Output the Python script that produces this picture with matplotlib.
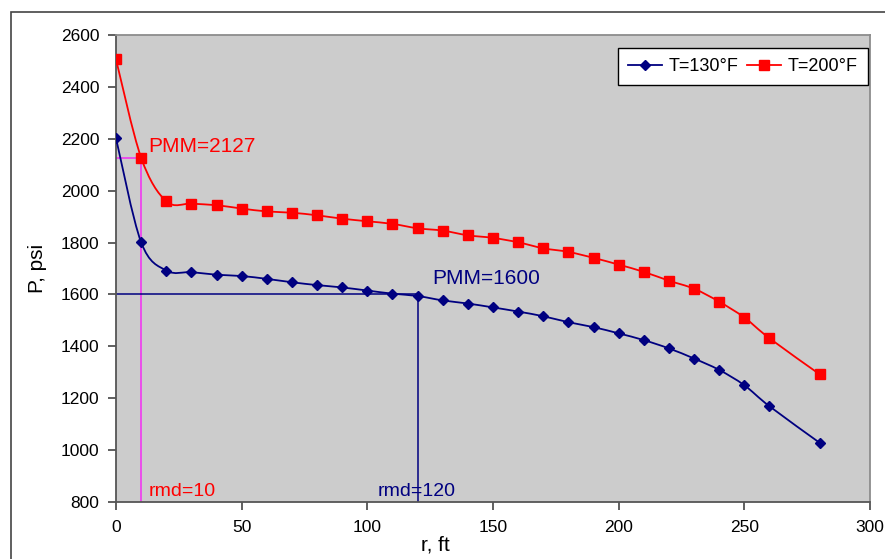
import numpy as np
import matplotlib.pyplot as plt
from matplotlib.path import Path
from matplotlib.patches import PathPatch, Rectangle

plt.rcParams['font.family'] = ['Liberation Sans', 'DejaVu Sans']

# Pressure profiles
r = [0, 10, 20, 30, 40, 50, 60, 70, 80, 90, 100, 110, 120, 130, 140,
     150, 160, 170, 180, 190, 200, 210, 220, 230, 240, 250, 260, 280]
p130 = [2202, 1801, 1692, 1686, 1676, 1671, 1660, 1647, 1636, 1627, 1615,
        1603, 1594, 1577, 1565, 1550, 1534, 1516, 1493, 1474, 1450, 1424,
        1392, 1353, 1309, 1250, 1169, 1028]
p200 = [2506, 2127, 1959, 1950, 1944, 1931, 1920, 1915, 1905, 1892, 1882,
        1872, 1855, 1846, 1828, 1818, 1801, 1778, 1764, 1741, 1715, 1687,
        1653, 1622, 1572, 1511, 1431, 1292]
labels = ['T=130°F', 'T=200°F']

pmm_hot, rmd_hot = 2127, 10
pmm_cold, rmd_cold = 1600, 120


# Excel-style smoothed line: Catmull-Rom segments drawn as cubic Beziers
def smoothPath(x, y, ax):
    pts = ax.transData.transform(np.column_stack([x, y]))
    verts = [pts[0]]
    codes = [Path.MOVETO]
    n = len(pts)
    for i in range(n - 1):
        p0 = pts[max(i - 1, 0)]
        p1 = pts[i]
        p2 = pts[i + 1]
        p3 = pts[min(i + 2, n - 1)]
        c1 = p1 + (p2 - p0) / 6.0
        c2 = p2 - (p3 - p1) / 6.0
        verts += [c1, c2, p2]
        codes += [Path.CURVE4] * 3
    verts = ax.transData.inverted().transform(np.array(verts))
    return Path(verts, codes)


fig = plt.figure(figsize=(8.85, 5.59), dpi=100)
ax = fig.add_axes([116 / 885, 1 - 502 / 559, (870 - 116) / 885, (502 - 35) / 559])
ax.set_facecolor('#cccccc')
ax.set_xlim(0, 300)
ax.set_ylim(800, 2600)
ax.set_xticks(np.arange(0, 301, 50))
ax.set_yticks(np.arange(800, 2601, 200))

# marker lines for PMM / rmd
ax.plot([0, rmd_hot], [pmm_hot, pmm_hot], color='#ee44ee', lw=1.3, zorder=2)
ax.plot([rmd_hot, rmd_hot], [800, pmm_hot], color='#ee44ee', lw=1.3, zorder=2)
ax.plot([0, rmd_cold], [pmm_cold, pmm_cold], color='#000080', lw=1.1, zorder=2)
ax.plot([rmd_cold, rmd_cold], [800, pmm_cold], color='#000080', lw=1.1, zorder=2)

fig.canvas.draw()
for yy, col, mk, ms, lab in [(p130, '#000080', 'D', 5.5, labels[0]),
                             (p200, '#ff0000', 's', 6.5, labels[1])]:
    ax.add_patch(PathPatch(smoothPath(r, yy, ax), fill=False, edgecolor=col,
                           lw=1.3, zorder=3))
    ax.plot(r, yy, ls='none', marker=mk, ms=ms, color=col, zorder=4)
    ax.plot([], [], color=col, lw=1.3, marker=mk, ms=ms, label=lab)

ax.text(13, 2150, 'PMM=2127', color='#ff0000', fontsize=15)
ax.text(126, 1640, 'PMM=1600', color='#000080', fontsize=15)
ax.text(13, 825, 'rmd=10', color='#ff0000', fontsize=14)
ax.text(104, 825, 'rmd=120', color='#000080', fontsize=14)

leg = ax.legend(loc='upper right', ncol=2, fontsize=13, frameon=True,
                fancybox=False, edgecolor='black', framealpha=1,
                handlelength=1.9, handletextpad=0.35, columnspacing=0.5,
                borderpad=0.55, borderaxespad=0,
                bbox_to_anchor=(0.997, 0.972))
leg.get_frame().set_linewidth(1.0)

ax.tick_params(direction='out', length=6, width=1.2, labelsize=12.5,
               color='#444444', pad=6)
ax.tick_params(axis='x', pad=7)
for s in ['left', 'bottom']:
    ax.spines[s].set_color('#555555')
    ax.spines[s].set_linewidth(1.3)
for s in ['top', 'right']:
    ax.spines[s].set_color('#8c8c8c')
    ax.spines[s].set_linewidth(1.3)

ax.set_xlabel('r, ft', fontsize=15)
ax.xaxis.set_label_coords((435 - 116) / 754, -(545 - 502) / 467)
ax.xaxis.label.set_va('center')
ax.set_ylabel('P, psi', fontsize=15, labelpad=10)

# outer chart border (cut off at right/bottom)
fig.patches.append(Rectangle((11 / 885, -0.2), 1.2, 1.2 - 12 / 559,
                             transform=fig.transFigure, fill=False,
                             edgecolor='#444444', lw=1.2))

fig.savefig('out.png', dpi=100)
